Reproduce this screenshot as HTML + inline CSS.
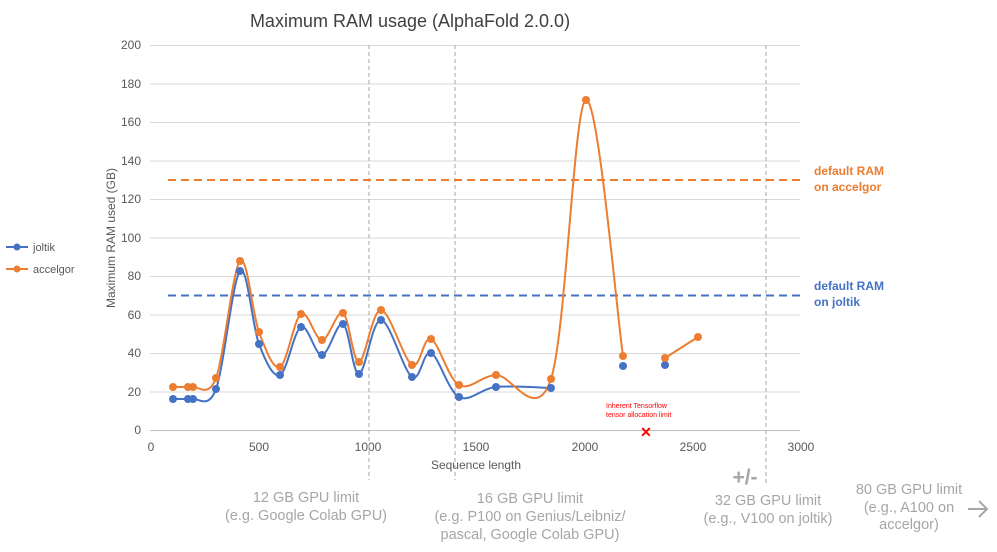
<!DOCTYPE html>
<html><head><style>
body{margin:0;background:#fff;font-family:"Liberation Sans",Arial,sans-serif;}
svg text{font-family:"Liberation Sans",Arial,sans-serif;}
</style></head><body>
<svg id="s" width="997" height="547" viewBox="0 0 997 547" xmlns="http://www.w3.org/2000/svg">
<text x="410" y="27" font-size="18" fill="#404040" text-anchor="middle">Maximum RAM usage (AlphaFold 2.0.0)</text>
<g stroke="#d9d9d9" stroke-width="1">
<line x1="150" x2="800" y1="45.5" y2="45.5"/><line x1="150" x2="800" y1="84" y2="84"/><line x1="150" x2="800" y1="122.5" y2="122.5"/><line x1="150" x2="800" y1="161" y2="161"/><line x1="150" x2="800" y1="199.5" y2="199.5"/><line x1="150" x2="800" y1="238" y2="238"/><line x1="150" x2="800" y1="276.5" y2="276.5"/><line x1="150" x2="800" y1="315" y2="315"/><line x1="150" x2="800" y1="353.5" y2="353.5"/><line x1="150" x2="800" y1="392" y2="392"/>
</g>
<line x1="150" x2="800" y1="430.5" y2="430.5" stroke="#bfbfbf"/>
<g font-size="12" fill="#595959" text-anchor="end">
<text x="141" y="49">200</text><text x="141" y="88">180</text><text x="141" y="126">160</text><text x="141" y="165">140</text><text x="141" y="203">120</text><text x="141" y="242">100</text><text x="141" y="280">80</text><text x="141" y="319">60</text><text x="141" y="357">40</text><text x="141" y="396">20</text><text x="141" y="434">0</text>
</g>
<g font-size="12" fill="#595959" text-anchor="middle">
<text x="151" y="451">0</text><text x="259" y="451">500</text><text x="368" y="451">1000</text><text x="476" y="451">1500</text><text x="585" y="451">2000</text><text x="693" y="451">2500</text><text x="801" y="451">3000</text>
</g>
<text x="476" y="469" font-size="12" fill="#595959" text-anchor="middle">Sequence length</text>
<text transform="translate(115,238) rotate(-90)" font-size="12" fill="#595959" text-anchor="middle">Maximum RAM used (GB)</text>
<g stroke="#a6a6a6" stroke-dasharray="4,3" stroke-width="1">
<line x1="369" x2="369" y1="45" y2="480"/><line x1="455" x2="455" y1="45" y2="480"/><line x1="766" x2="766" y1="45" y2="485"/>
</g>
<line x1="168" x2="805" y1="180" y2="180" stroke="#ed7d31" stroke-width="2" stroke-dasharray="8,5"/>
<line x1="168" x2="805" y1="295.5" y2="295.5" stroke="#4472c4" stroke-width="2" stroke-dasharray="8,5"/>
<text x="814" y="175" font-size="12" font-weight="bold" fill="#ed7d31">default RAM</text>
<text x="814" y="191" font-size="12" font-weight="bold" fill="#ed7d31">on accelgor</text>
<text x="814" y="290" font-size="12" font-weight="bold" fill="#4472c4">default RAM</text>
<text x="814" y="306" font-size="12" font-weight="bold" fill="#4472c4">on joltik</text>
<g id="series"></g>
<text x="606" y="408" font-size="7" fill="#ff0000">Inherent Tensorflow</text>
<text x="606" y="417" font-size="7" fill="#ff0000">tensor allocation limit</text>
<text x="646" y="437" font-size="14" font-weight="bold" fill="#ff0000" text-anchor="middle">✕</text>
<line x1="6" x2="28" y1="247" y2="247" stroke="#4472c4" stroke-width="2"/><circle cx="17" cy="247" r="3.5" fill="#4472c4"/>
<text x="33" y="251" font-size="11" fill="#595959">joltik</text>
<line x1="6" x2="28" y1="269" y2="269" stroke="#ed7d31" stroke-width="2"/><circle cx="17" cy="269" r="3.5" fill="#ed7d31"/>
<text x="33" y="273" font-size="11" fill="#595959">accelgor</text>
<g font-size="14.5" fill="#a6a6a6" text-anchor="middle">
<text x="306" y="502">12 GB GPU limit</text><text x="306" y="520">(e.g. Google Colab GPU)</text>
<text x="530" y="503">16 GB GPU limit</text><text x="530" y="521">(e.g. P100 on Genius/Leibniz/</text><text x="530" y="539">pascal, Google Colab GPU)</text>
<text x="768" y="505">32 GB GPU limit</text><text x="768" y="523">(e.g., V100 on joltik)</text>
<text x="909" y="494">80 GB GPU limit</text><text x="909" y="512">(e.g., A100 on</text><text x="909" y="529">accelgor)</text>
<text x="745" y="484" font-size="21" font-weight="bold">+/-</text>
</g>
<g stroke="#a6a6a6" stroke-width="2" fill="none"><line x1="968" y1="509" x2="986" y2="509"/><polyline points="979,501 987,509 979,517"/></g>
</svg>
<script>
function cr(p){var d="M"+p[0][0]+","+p[0][1];for(var i=0;i<p.length-1;i++){var p0=p[i-1]||p[i],p1=p[i],p2=p[i+1],p3=p[i+2]||p2;
d+=" C"+(p1[0]+(p2[0]-p0[0])/6)+","+(p1[1]+(p2[1]-p0[1])/6)+" "+(p2[0]-(p3[0]-p1[0])/6)+","+(p2[1]-(p3[1]-p1[1])/6)+" "+p2[0]+","+p2[1];}return d;}
var B=[[173,399],[188,399],[193,399],[216,389],[240,271],[259,344],[280,375],[301,327],[322,355],[343,324],[359,374],[381,320],[412,377],[431,353],[459,397],[496,387],[551,388]];
var O=[[173,387],[188,387],[193,387],[216,378],[240,261],[259,332],[280,367],[301,314],[322,340],[343,313],[359,362],[381,310],[412,365],[431,339],[459,385],[496,375],[551,379],[586,100],[623,356]];
var g=document.getElementById("series"),h="";
function pts(a,c){a.forEach(function(q){h+='<circle cx="'+q[0]+'" cy="'+q[1]+'" r="4" fill="'+c+'"/>';});}
h+='<path d="'+cr(B)+'" fill="none" stroke="#4472c4" stroke-width="2"/>';
h+='<path d="'+cr(O)+'" fill="none" stroke="#ed7d31" stroke-width="2"/>';
h+='<line x1="665" y1="358" x2="698" y2="337" stroke="#ed7d31" stroke-width="2"/>';
pts(B.concat([[623,366],[665,365]]),"#4472c4");pts(O.concat([[665,358],[698,337]]),"#ed7d31");
g.innerHTML=h;
</script>
</body></html>
